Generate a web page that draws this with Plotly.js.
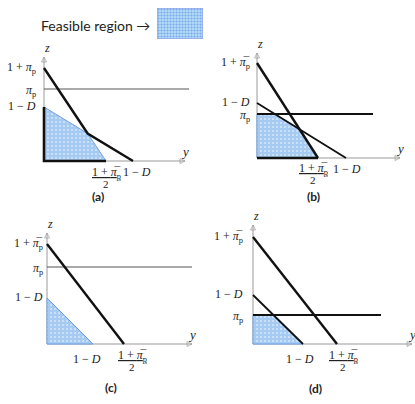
<!DOCTYPE html>
<html>
<head>
<meta charset="utf-8">
<script src="https://cdn.plot.ly/plotly-3.0.1.min.js"></script>
<style>
  html, body { margin: 0; padding: 0; background: #fff; }
  #plot { width: 415px; height: 404px; }
</style>
</head>
<body>
<div id="plot"></div>
<script>
// values, in picture units (one unit = one pixel from each panel origin)
const panelNames = ["(a)", "(b)", "(c)", "(d)"];
const steepZ = [93, 95, 100, 107];   // 1 + pi_p on the z axis
const steepY = [62, 61, 77, 84];     // (1 + pi_p)/2 on the y axis
const lossZ = [54, 55, 46, 49];      // 1 - D on the z axis
const lossY = [89, 89, 46, 50];      // 1 - D on the y axis
const piLevel = [72, 44, 77, 29];    // pi_p level
const piLength = [145, 116, 145, 128];
const axisLenY = [141, 143, 145, 159];
const axisLenZ = [104, 105, 111, 119];

const piBar = "<i>π̅</i><sub>p</sub>";
const piPlain = "<i>π</i><sub>p</sub>";
const topLabels = ["1 + " + piPlain, "1 + " + piBar, "1 + " + piBar, "1 + " + piBar];
const fracTop = "<u>1 + " + piBar + "</u>";
const fracBottom = "2";
const lossLabel = "1 − <i>D</i>";

// layout bits (pixel places of each panel origin)
const W = 415, H = 404;
const originX = [44, 257, 47, 253];
const originY = [161, 158, 344, 344];

const mathFont = {family: "Liberation Serif", size: 12, color: "#222"};

function lineZ(a, b, y) { return a * (1 - y / b); }

// feasible region: below both lines and below pi level
function regionPoints(i) {
  const L = [[steepZ[i], steepY[i]], [lossZ[i], lossY[i]]];
  const f = y => Math.min(piLevel[i], ...L.map(l => lineZ(l[0], l[1], y)));
  const yEnd = Math.min(steepY[i], lossY[i]);
  let br = [0, yEnd];
  const [a1, b1] = L[0], [a2, b2] = L[1];
  br.push((a1 - a2) / (a1 / b1 - a2 / b2));
  L.forEach(l => br.push(l[1] * (1 - piLevel[i] / l[0])));
  br = br.filter(y => y >= 0 && y <= yEnd).sort((p, q) => p - q);
  const xs = [0], zs = [0];
  br.forEach(y => { xs.push(y); zs.push(Math.max(0, f(y))); });
  xs.push(0); zs.push(0);
  return {xs, zs, top: f(0), yEnd};
}

function crossY(i) {
  const a1 = steepZ[i], b1 = steepY[i], a2 = lossZ[i], b2 = lossY[i];
  return (a1 - a2) / (a1 / b1 - a2 / b2);
}

const traces = [];
const annotations = [];
const layout = {
  width: W, height: H,
  margin: {l: 0, r: 0, t: 0, b: 0},
  paper_bgcolor: "#fff", plot_bgcolor: "rgba(0,0,0,0)",
  showlegend: false,
  annotations: annotations
};

const regionPattern = {shape: ".", bgcolor: "#a6cbf3", fgcolor: "#ffffff", size: 4, solidity: 0.12, fillmode: "replace"};

for (let i = 0; i < 4; i++) {
  const k = i + 1;
  const xa = "x" + k, ya = "y" + k;
  const ox = originX[i], oy = originY[i];
  const xmin = -6, xmax = Math.min(165, W - 1 - ox);
  const zmin = -6, zmax = Math.min(125, oy - 1);
  layout["xaxis" + k] = {
    domain: [(ox + xmin) / W, (ox + xmax) / W], range: [xmin, xmax],
    visible: false, fixedrange: true, anchor: ya
  };
  layout["yaxis" + k] = {
    domain: [(H - (oy - zmin)) / H, (H - (oy - zmax)) / H], range: [zmin, zmax],
    visible: false, fixedrange: true, anchor: xa
  };

  // axes with arrow tips
  traces.push({
    x: [0, axisLenY[i]], y: [0, 0], xaxis: xa, yaxis: ya, mode: "lines+markers",
    line: {color: "#9a9a9a", width: 1},
    marker: {symbol: ["circle", "arrow-right-open"], size: [0, 5], color: "#9a9a9a", line: {color: "#9a9a9a", width: 1}},
    hoverinfo: "skip", cliponaxis: false
  });
  traces.push({
    x: [0, 0], y: [0, axisLenZ[i]], xaxis: xa, yaxis: ya, mode: "lines+markers",
    line: {color: "#9a9a9a", width: 1},
    marker: {symbol: ["circle", "arrow-up-open"], size: [0, 5], color: "#9a9a9a", line: {color: "#9a9a9a", width: 1}},
    hoverinfo: "skip", cliponaxis: false
  });

  const reg = regionPoints(i);
  traces.push({
    x: reg.xs, y: reg.zs, xaxis: xa, yaxis: ya, type: "scatter", mode: "lines",
    fill: "toself", fillcolor: "#a6cbf3", fillpattern: regionPattern,
    line: {color: "#6f9fe0", width: 1}, hoverinfo: "skip"
  });

  annotations.push({xref: xa, yref: ya, x: axisLenY[i], y: 0, yshift: 10, xshift: 0, showarrow: false,
    text: "<i>y</i>", font: {family: "Liberation Serif", size: 13, color: "#222"}});
  annotations.push({xref: xa, yref: ya, x: 0, y: axisLenZ[i], yshift: 9, xshift: 3, showarrow: false,
    text: "<i>z</i>", font: {family: "Liberation Serif", size: 12, color: "#222"}});

  // lines
  const thinPi = (i === 0 || i === 2);
  traces.push({
    x: [0, piLength[i]], y: [piLevel[i], piLevel[i]], xaxis: xa, yaxis: ya, mode: "lines",
    line: {color: thinPi ? "#555" : "#111", width: thinPi ? 1 : 1.8}, hoverinfo: "skip"
  });
  if (i === 0) {
    // outer envelope only
    const yc = crossY(i);
    const ys = [0, yc, Math.max(steepY[i], lossY[i])];
    traces.push({
      x: ys, y: ys.map(y => Math.max(0, lineZ(steepZ[i], steepY[i], y), lineZ(lossZ[i], lossY[i], y))),
      xaxis: xa, yaxis: ya, mode: "lines", line: {color: "#111", width: 2.4}, hoverinfo: "skip"
    });
    traces.push({
      x: [0, 0, reg.yEnd], y: [reg.top, 0, 0], xaxis: xa, yaxis: ya, mode: "lines",
      line: {color: "#111", width: 2.6}, hoverinfo: "skip"
    });
  } else {
    traces.push({
      x: [0, steepY[i]], y: [steepZ[i], 0], xaxis: xa, yaxis: ya, mode: "lines",
      line: {color: "#111", width: 2.4}, hoverinfo: "skip"
    });
    if (i !== 2) {
      traces.push({
        x: [0, lossY[i]], y: [lossZ[i], 0], xaxis: xa, yaxis: ya, mode: "lines",
        line: {color: "#111", width: 1.8}, hoverinfo: "skip"
      });
    }
    if (i === 1) {
      traces.push({
        x: [0, reg.yEnd], y: [0, 0], xaxis: xa, yaxis: ya, mode: "lines",
        line: {color: "#111", width: 2.6}, hoverinfo: "skip"
      });
    }
  }

  // left labels
  const gap = [-6, -5, -2, -8][i];
  annotations.push({xref: xa, yref: ya, x: 0, y: steepZ[i], xanchor: "right", xshift: gap, showarrow: false,
    text: topLabels[i], font: mathFont});
  annotations.push({xref: xa, yref: ya, x: 0, y: piLevel[i], xanchor: "right", xshift: gap, yshift: -2, showarrow: false,
    text: piPlain, font: mathFont});
  annotations.push({xref: xa, yref: ya, x: 0, y: lossZ[i], xanchor: "right", xshift: gap, yshift: 1, showarrow: false,
    text: lossLabel, font: mathFont});

  // bottom labels
  const fracShift = [0, -5, 8, 6][i];
  const fracDrop = [-2, -1, -2, -2][i];
  annotations.push({xref: xa, yref: ya, x: steepY[i], y: 0, yanchor: "top", yshift: fracDrop, xshift: fracShift,
    showarrow: false, text: fracTop, font: mathFont});
  annotations.push({xref: xa, yref: ya, x: steepY[i], y: 0, yanchor: "top", yshift: fracDrop - 13, xshift: fracShift,
    showarrow: false, text: fracBottom, font: {family: "Liberation Serif", size: 11, color: "#222"}});
  const lossTop = (i < 2);
  annotations.push({xref: xa, yref: ya, x: lossY[i], y: 0, yanchor: "top", yshift: lossTop ? -2 : -6,
    xshift: [4, 1, -6, -3][i], showarrow: false, text: lossLabel, font: mathFont});
}

// panel captions
const capX = [98, 313, 111, 315];
const capY = [196, 196, 387, 388];
panelNames.forEach((t, i) => {
  annotations.push({xref: "paper", yref: "paper", x: capX[i] / W, y: 1 - capY[i] / H,
    xanchor: "center", yanchor: "middle", showarrow: false,
    text: "<b>" + t + "</b>", font: {family: "Lato", size: 12, color: "#222"}});
});

// legend key
layout.xaxis5 = {domain: [157 / W, 203 / W], range: [0, 1], visible: false, fixedrange: true, anchor: "y5"};
layout.yaxis5 = {domain: [1 - 39 / H, 1 - 8 / H], range: [0, 1], visible: false, fixedrange: true, anchor: "x5"};
traces.push({
  x: [0, 1, 1, 0, 0], y: [0, 0, 1, 1, 0], xaxis: "x5", yaxis: "y5", mode: "lines",
  fill: "toself", fillcolor: "#b4dbf7",
  fillpattern: {shape: ".", bgcolor: "#b4dbf7", fgcolor: "#7aa8ea", size: 3, solidity: 0.4, fillmode: "replace"},
  line: {color: "#8f8fe6", width: 1}, hoverinfo: "skip"
});
annotations.push({xref: "paper", yref: "paper", x: 152 / W, y: 1 - 25 / H, xanchor: "right", yanchor: "middle",
  showarrow: false, text: "Feasible region →", font: {family: "Lato", size: 14, color: "#222"}});

Plotly.newPlot("plot", traces, layout, {staticPlot: true});
</script>
</body>
</html>
